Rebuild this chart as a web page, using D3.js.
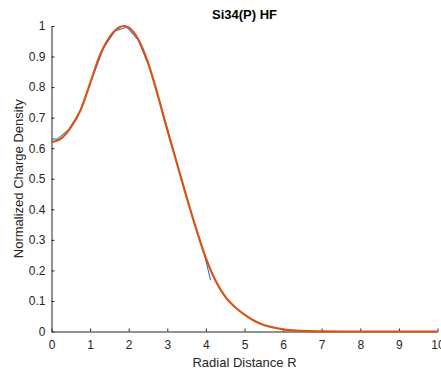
<!DOCTYPE html>
<html>
<head>
<meta charset="utf-8">
<script src="https://cdn.jsdelivr.net/npm/d3@7"></script>
<style>
  html, body { margin: 0; padding: 0; background: #fff; }
  svg text { font-family: "Liberation Sans", Arial, Helvetica, sans-serif; }
</style>
</head>
<body>
<svg id="chart" width="441" height="372"></svg>
<script>
// ---- data ----
const chartTitle = "Si34(P) HF";
const xLabel = "Radial Distance R";
const yLabel = "Normalized Charge Density";
const xTicks = [0, 1, 2, 3, 4, 5, 6, 7, 8, 9, 10];
const yTicks = [0, 0.1, 0.2, 0.3, 0.4, 0.5, 0.6, 0.7, 0.8, 0.9, 1];

// measured data (blue, piecewise linear)
const dataR = [0, 0.15, 0.45, 0.75, 1.05, 1.35, 1.65, 1.95, 2.25, 2.55, 2.85, 3.15, 3.45, 3.75, 3.95, 4.12];
const dataRho = [0.630, 0.630, 0.662, 0.722, 0.828, 0.928, 0.984, 0.996, 0.953, 0.860, 0.733, 0.596, 0.462, 0.335, 0.258, 0.168];

// fitted curve (orange, smooth)
const fitR = [0, 0.25, 0.5, 0.75, 1.0, 1.25, 1.5, 1.75, 1.88, 2.0, 2.25, 2.5, 2.75, 3.0, 3.25, 3.5, 3.75, 4.0, 4.25, 4.5, 4.75, 5.0, 5.25, 5.5, 5.75, 6.0, 6.5, 7.0, 7.5, 8.0, 9.0, 10.0];
const fitRho = [0.620, 0.632, 0.668, 0.724, 0.812, 0.903, 0.963, 0.995, 1.0, 0.995, 0.955, 0.880, 0.775, 0.660, 0.550, 0.440, 0.335, 0.240, 0.166, 0.114, 0.080, 0.055, 0.035, 0.021, 0.013, 0.007, 0.002, 0.0005, 0.0, 0.0, 0.0, 0.0];

// ---- drawing ----
const svg = d3.select("#chart");
const x = d3.scaleLinear().domain([0, 10]).range([51.5, 437.5]);
const y = d3.scaleLinear().domain([0, 1]).range([331.5, 26]);
const axisColor = "#262626";

// x axis
const gx = svg.append("g").attr("transform", `translate(0,${y(0)})`)
  .call(d3.axisBottom(x).tickValues(xTicks).tickFormat(d3.format("d")).tickSizeInner(-3).tickSizeOuter(0).tickPadding(6));
gx.select(".domain").attr("stroke", axisColor);
gx.selectAll(".tick line").attr("stroke", axisColor);
gx.selectAll(".tick text").attr("fill", axisColor).attr("font-size", 12).attr("dy", "0.71em")
  .attr("y", 9);

// y axis
const gy = svg.append("g").attr("transform", `translate(${x(0)},0)`)
  .call(d3.axisLeft(y).tickValues(yTicks).tickFormat(d => d === 0 ? "0" : (d === 1 ? "1" : d3.format(".1f")(d))).tickSizeInner(-3).tickSizeOuter(0).tickPadding(6));
gy.select(".domain").attr("stroke", axisColor);
gy.selectAll(".tick line").attr("stroke", axisColor);
gy.selectAll(".tick text").attr("fill", axisColor).attr("font-size", 12).attr("x", -6);

// lines
const dataPts = dataR.map((r, i) => [r, dataRho[i]]);
const fitPts = fitR.map((r, i) => [r, fitRho[i]]);
const lineLin = d3.line().x(d => x(d[0])).y(d => y(d[1])).curve(d3.curveLinear);
const lineSmooth = d3.line().x(d => x(d[0])).y(d => y(d[1])).curve(d3.curveMonotoneX);

svg.append("path").datum(dataPts).attr("d", lineLin)
  .attr("fill", "none").attr("stroke", "#0072BD").attr("stroke-width", 1);
svg.append("path").datum(fitPts).attr("d", lineSmooth)
  .attr("fill", "none").attr("stroke", "#D95319").attr("stroke-width", 2.2)
  .attr("stroke-linejoin", "round");

// labels
svg.append("text").attr("x", 244.5).attr("y", 19).attr("text-anchor", "middle")
  .attr("font-size", 13).attr("font-weight", "bold").attr("fill", "#000").text(chartTitle);
svg.append("text").attr("x", 244.5).attr("y", 366.5).attr("text-anchor", "middle")
  .attr("font-size", 13).attr("fill", axisColor).text(xLabel);
svg.append("text").attr("transform", `translate(23,${(y(0) + y(1)) / 2}) rotate(-90)`)
  .attr("text-anchor", "middle").attr("font-size", 13).attr("fill", axisColor).text(yLabel);
</script>
</body>
</html>
